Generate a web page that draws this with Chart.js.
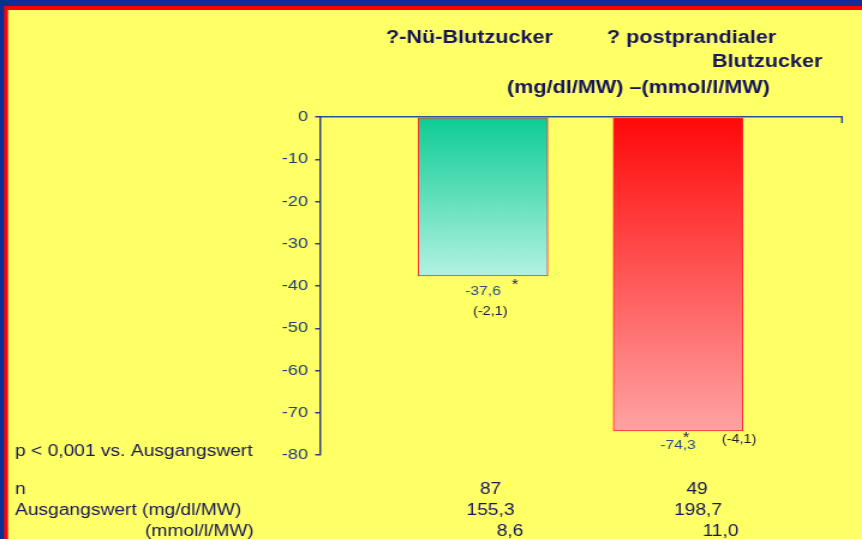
<!DOCTYPE html>
<html>
<head>
<meta charset="utf-8">
<script src="https://cdn.jsdelivr.net/npm/chart.js@4.4.0/dist/chart.umd.min.js"></script>
<style>
  html, body { margin: 0; padding: 0; overflow: hidden; background: #0d2f95; }
  /* the slide is a 4:3 slide stretched sideways, so draw narrow and stretch */
  #wrap { width: 718px; height: 539px; transform: scaleX(1.2006); transform-origin: 0 0; }
</style>
</head>
<body>
<div id="wrap"><canvas id="chart" width="718" height="539"></canvas></div>
<script>
const SX = 862 / 718;
const px = (refX) => refX / SX; // reference pixel -> canvas unit

// Data
const categories = ['Nü-Blutzucker', 'postprandialer Blutzucker'];
const changeMgdl = [-37.6, -74.3];
const changeMmol = [-2.1, -4.1];
const nPatients = [87, 49];
const baselineMgdl = [155.3, 198.7];
const baselineMmol = [8.6, 11.0];
const yMin = -80;
const yMax = 0;
const yStep = 10;

const barColors = [['#0dcc94', '#b2f2e2'], ['#ff0808', '#ffa3a3']];
const navy = '#16165c';
const fmt = (v) => v.toFixed(1).replace('.', ',');

Chart.defaults.font.family = "'Liberation Sans', Arial, sans-serif";

function barGradient(ctx) {
  if (ctx.type !== 'data' || !ctx.chart.chartArea) return 'transparent';
  const y = ctx.chart.scales.y;
  const top = y.getPixelForValue(0);
  const bottom = y.getPixelForValue(ctx.raw.y);
  const g = ctx.chart.ctx.createLinearGradient(0, top, 0, bottom);
  const c = barColors[ctx.dataIndex];
  g.addColorStop(0, c[0]);
  g.addColorStop(1, c[1]);
  return g;
}

// label offsets under each bar (canvas units): value, star, mmol value
const labelPos = [
  { v: [0, 16], s: [26.7, 9], m: [6, 36], mSize: 12 },
  { v: [0, 15], s: [6.7, 7], m: [50.8, 9], mSize: 12 }
];

function text(ctx, str, x, y, font, color, align) {
  ctx.font = font;
  ctx.fillStyle = color;
  ctx.textAlign = align || 'left';
  ctx.textBaseline = 'middle';
  ctx.fillText(str, x, y);
}

const slide = {
  id: 'slide',
  beforeDraw(chart) {
    const ctx = chart.ctx;
    ctx.save();
    ctx.fillStyle = '#0d2f95';
    ctx.fillRect(0, 0, chart.width, chart.height);
    ctx.fillStyle = '#ff0000';
    ctx.fillRect(px(4), 6, chart.width, chart.height);
    ctx.fillStyle = '#ffff66';
    ctx.fillRect(px(8), 10, chart.width, chart.height);
    ctx.restore();
  },
  afterDraw(chart) {
    const ctx = chart.ctx;
    const area = chart.chartArea;
    ctx.save();
    // small closing tick at the right end of the x axis
    ctx.strokeStyle = '#2a4f9f';
    ctx.lineWidth = 1.5;
    ctx.beginPath();
    ctx.moveTo(area.right, area.top);
    ctx.lineTo(area.right, area.top + 6);
    ctx.stroke();

    // headings
    const hFont = "bold 18px 'Liberation Sans', Arial, sans-serif";
    text(ctx, '?-Nü-Blutzucker', px(386), 38, hFont, navy);
    text(ctx, '? postprandialer', px(607), 38, hFont, navy);
    text(ctx, 'Blutzucker', px(712), 62, hFont, navy);
    text(ctx, '(mg/dl/MW) \u2013(mmol/l/MW)', px(507), 88, hFont, navy);

    // bar labels
    const meta = chart.getDatasetMeta(0);
    meta.data.forEach((bar, i) => {
      const p = labelPos[i];
      const bottom = bar.y;
      text(ctx, fmt(changeMgdl[i]), bar.x + p.v[0], bottom + p.v[1], "13px 'Liberation Sans', Arial, sans-serif", '#1f4f86', 'center');
      text(ctx, '*', bar.x + p.s[0], bottom + p.s[1], "14px 'Liberation Sans', Arial, sans-serif", navy, 'center');
      text(ctx, '(' + fmt(changeMmol[i]) + ')', bar.x + p.m[0], bottom + p.m[1], p.mSize + "px 'Liberation Sans', Arial, sans-serif", '#1a1a2a', 'center');
    });

    // table below the chart
    const tFont = "16px 'Liberation Sans', Arial, sans-serif";
    text(ctx, 'p < 0,001 vs. Ausgangswert', px(15), 452, tFont, navy);
    text(ctx, 'n', px(15), 490, tFont, navy);
    text(ctx, 'Ausgangswert (mg/dl/MW)', px(15), 511, tFont, navy);
    text(ctx, '(mmol/l/MW)', px(145), 532, tFont, navy);
    const colN = [px(490.5), px(697)];
    const colMg = [px(490.5), px(698)];
    const colMm = [px(510), px(720.5)];
    categories.forEach((c, i) => {
      text(ctx, String(nPatients[i]), colN[i], 490, tFont, navy, 'center');
      text(ctx, fmt(baselineMgdl[i]), colMg[i], 511, tFont, navy, 'center');
      text(ctx, fmt(baselineMmol[i]), colMm[i], 532, tFont, navy, 'center');
    });
    ctx.restore();
  }
};

const chart = new Chart(document.getElementById('chart'), {
  type: 'bar',
  data: {
    labels: categories,
    datasets: [{
      data: changeMgdl.map((v, i) => ({ x: i + 1, y: v })),
      backgroundColor: barGradient,
      borderColor: '#ff2a2a',
      borderWidth: 1,
      borderSkipped: false,
      barThickness: 108
    }]
  },
  options: {
    responsive: false,
    animation: false,
    layout: {
      padding: { left: px(320) - 50, right: 718 - px(842), top: 117, bottom: 539 - 455 }
    },
    scales: {
      x: {
        type: 'linear',
        position: 'top',
        min: 0.164,
        max: 2.841,
        offset: false,
        z: 1,
        grid: { display: false },
        ticks: { display: false },
        border: { display: true, color: '#2a4f9f', width: 1.5 },
        afterFit: (s) => { s.height = 0; }
      },
      y: {
        min: yMin,
        max: yMax,
        ticks: {
          stepSize: yStep,
          color: '#1d3f78',
          padding: 6,
          font: { size: 15 }
        },
        grid: { drawOnChartArea: false, tickLength: 4, color: '#2e3a88', lineWidth: 1.5 },
        border: { color: '#2e3a88', width: 1.5 },
        afterFit: (s) => { s.width = 50; }
      }
    },
    plugins: {
      legend: { display: false },
      tooltip: { enabled: false }
    }
  },
  plugins: [slide]
});
</script>
</body>
</html>
